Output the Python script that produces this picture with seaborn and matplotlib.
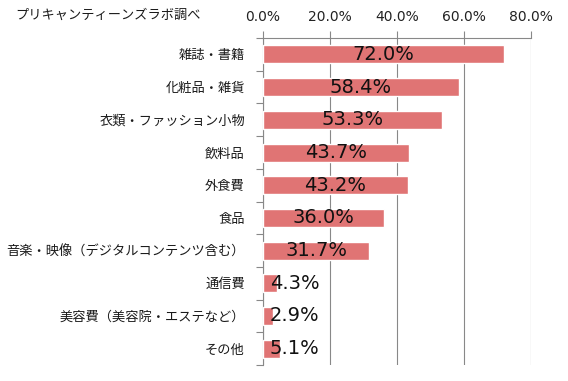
import matplotlib
matplotlib.use("Agg")
import matplotlib.pyplot as plt
import seaborn as sns
import pandas as pd
import numpy as np

categories = ["雑誌・書籍", "化粧品・雑貨", "衣類・ファッション小物", "飲料品", "外食費",
              "食品", "音楽・映像（デジタルコンテンツ含む）", "通信費", "美容費（美容院・エステなど）", "その他"]
values = [72.0, 58.4, 53.3, 43.7, 43.2, 36.0, 31.7, 4.3, 2.9, 5.1]
xticks = [0, 20, 40, 60, 80]
xticklabels = ["0.0%", "20.0%", "40.0%", "60.0%", "80.0%"]
title = "プリキャンティーンズラボ調べ"

sns.set_theme(style="white")
plt.rcParams['font.family'] = ['Noto Sans CJK JP', 'DejaVu Sans']

df = pd.DataFrame({"cat": categories, "val": values})

fig = plt.figure(figsize=(5.68, 3.81), dpi=100)
ax = fig.add_axes([0.463, 0.042, 0.472, 0.858])

sns.barplot(data=df, y="cat", x="val", orient="h", color="#E07474",
            saturation=1, width=0.55, ax=ax, zorder=3)

ax.set_xlim(0, 80)
ax.set_ylim(len(categories) - 0.5, -0.5)
ax.set_xlabel("")
ax.set_ylabel("")

# top axis
ax.xaxis.tick_top()
ax.set_xticks(xticks)
ax.set_xticklabels(xticklabels, fontsize=10, color="#222222", family=['DejaVu Sans'])
ax.tick_params(axis="x", which="major", direction="out", length=5, width=0.8,
               color="#888888", pad=5, top=True, bottom=False)
ax.grid(axis="x", color="#888888", linewidth=0.8, zorder=0)
ax.grid(axis="y", visible=False)

# category labels with separator ticks
ax.set_yticks(range(len(categories)))
ax.set_yticklabels(categories, fontsize=9.5, color="#1a1a1a")
ax.tick_params(axis="y", which="major", length=0, pad=13)
ax.set_yticks(np.arange(-0.5, len(categories) + 0.5, 1), minor=True)
ax.tick_params(axis="y", which="minor", direction="out", length=5, width=0.8,
               color="#888888", left=True)

for s in ["right", "bottom"]:
    ax.spines[s].set_visible(False)
for s in ["left", "top"]:
    ax.spines[s].set_color("#888888")
    ax.spines[s].set_linewidth(0.8)

for i, v in enumerate(values):
    if v / 2 < 9:
        ax.text(2.0, i, f"{v:.1f}%", ha="left", va="center", fontsize=14,
                color="#111111", zorder=4, family=['DejaVu Sans'])
    else:
        ax.text(v / 2, i, f"{v:.1f}%", ha="center", va="center", fontsize=14,
                color="#111111", zorder=4, family=['DejaVu Sans'])

fig.text(15 / 568, 1 - 15 / 381, title, ha="left", va="center", fontsize=9.5, color="#1a1a1a")

fig.savefig("out.png", dpi=100)
